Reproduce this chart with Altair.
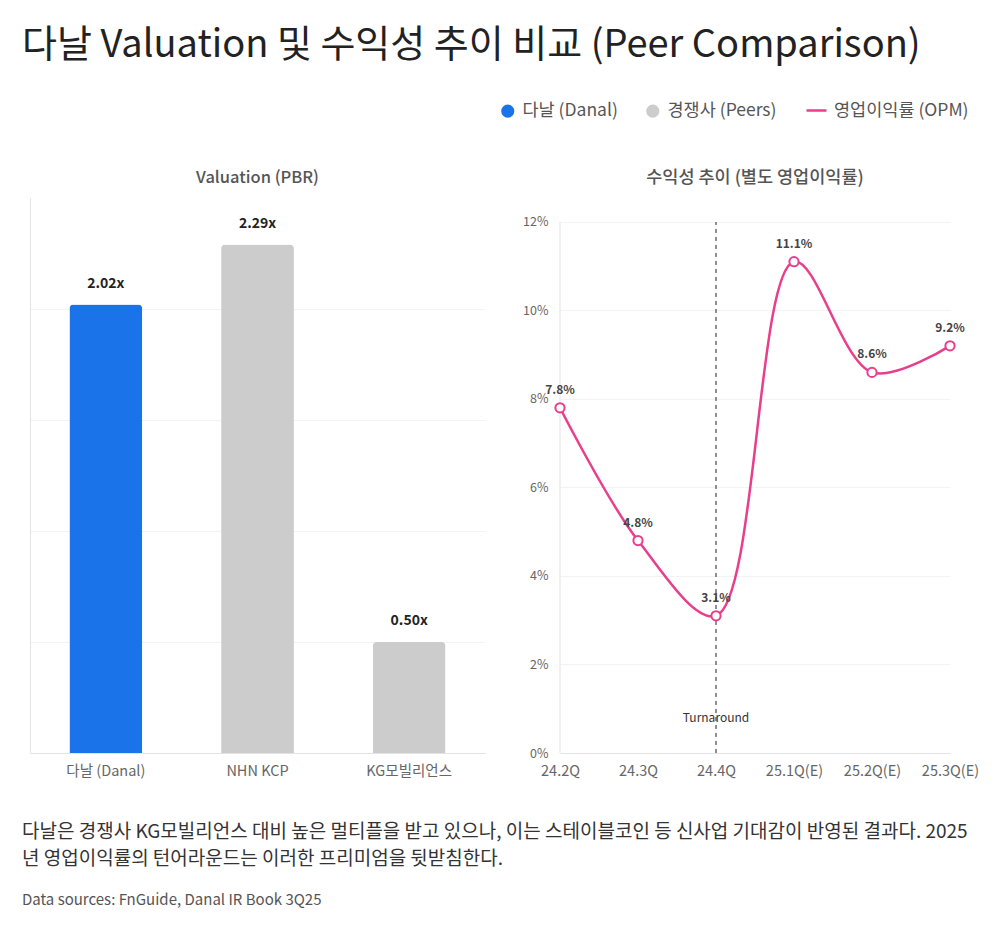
import altair as alt
import pandas as pd

FONT = "Noto Sans CJK KR"

# ---- data ----
companies = ["다날 (Danal)", "NHN KCP", "KG모빌리언스"]
pbr = [2.02, 2.29, 0.50]
pbr_labels = ["2.02x", "2.29x", "0.50x"]
groups = ["다날 (Danal)", "경쟁사 (Peers)", "경쟁사 (Peers)"]
group_domain = ["다날 (Danal)", "경쟁사 (Peers)"]
group_colors = ["#1a73e8", "#cccccc"]

quarters = ["24.2Q", "24.3Q", "24.4Q", "25.1Q(E)", "25.2Q(E)", "25.3Q(E)"]
opm = [7.8, 4.8, 3.1, 11.1, 8.6, 9.2]
opm_labels = ["7.8%", "4.8%", "3.1%", "11.1%", "8.6%", "9.2%"]
series_name = "영업이익률 (OPM)"
pink = "#e83e8c"

opm_ticks = [0, 2, 4, 6, 8, 10, 12]
opm_axis_start = [quarters[0]]
opm_axis_lo = [0]
opm_axis_hi = [12]

turn_quarter = ["24.4Q"]
turn_text = ["Turnaround"]
turn_label_y = [0.8]

title_text = "다날 Valuation 및 수익성 추이 비교 (Peer Comparison)"
footer_lines = [
    "다날은 경쟁사 KG모빌리언스 대비 높은 멀티플을 받고 있으나, 이는 스테이블코인 등 신사업 기대감이 반영된 결과다. 2025",
    "년 영업이익률의 턴어라운드는 이러한 프리미엄을 뒷받침한다.",
]
source_text = "Data sources: FnGuide, Danal IR Book 3Q25"

PANEL_H = 555
Y_R_MAX = 12.54  # right-panel scale top so that 12% sits below the shared panel top

# ---- left panel: PBR bars ----
bar_df = pd.DataFrame({"company": companies, "pbr": pbr, "label": pbr_labels, "group": groups})
x_l = alt.X(
    "company:N", sort=companies, title=None,
    scale=alt.Scale(paddingInner=0.52, paddingOuter=0.26),
    axis=alt.Axis(labelAngle=0, labelColor="#666", labelFontSize=14.5, labelPadding=11,
                  ticks=False, domainColor="#e3e3e3", grid=False),
)
y_l = alt.Y(
    "pbr:Q", title=None, scale=alt.Scale(domain=[0, 2.5], nice=False),
    axis=alt.Axis(labels=False, ticks=False, domainColor="#e3e3e3", gridColor="#f3f3f3",
                  values=[0.5, 1.0, 1.5, 2.0]),
)
bars = alt.Chart(bar_df).mark_bar(cornerRadiusTopLeft=4, cornerRadiusTopRight=4).encode(
    x=x_l, y=y_l,
    color=alt.Color(
        "group:N",
        scale=alt.Scale(domain=group_domain, range=group_colors),
        legend=alt.Legend(
            title=None, orient="none", direction="horizontal", legendX=469, legendY=-96,
            symbolType="circle", symbolSize=170, labelFontSize=17.5, labelColor="#555",
            labelOffset=6, columnPadding=26, labelFont=FONT,
        ),
    ),
)
bar_text = alt.Chart(bar_df).mark_text(dy=-21, fontSize=14, fontWeight="bold", color="#222").encode(
    x=x_l, y=y_l, text="label:N"
)
left = alt.layer(bars, bar_text).properties(
    width=455, height=PANEL_H,
    title=alt.TitleParams("Valuation (PBR)", fontSize=16.5, fontWeight=500, color="#555", offset=12),
)

# ---- right panel: OPM line ----
line_df = pd.DataFrame({"quarter": quarters, "opm": opm, "label": opm_labels,
                        "series": [series_name] * len(quarters)})
x_r = alt.X(
    "quarter:N", title=None,
    scale=alt.Scale(type="point", domain=quarters, padding=0),
    axis=alt.Axis(labelAngle=0, ticks=False, domainColor="#e3e3e3", grid=False,
                  labelColor="#666", labelFontSize=14.5, labelPadding=11),
)
y_scale_r = alt.Scale(domain=[0, Y_R_MAX], nice=False)
y_r = alt.Y(
    "opm:Q", title=None, scale=y_scale_r,
    axis=alt.Axis(values=opm_ticks, labelExpr="datum.value + '%'", ticks=False, domain=False,
                  gridColor="#f3f3f3", labelColor="#666", labelFontSize=12.5, labelPadding=12),
)
axis_df = pd.DataFrame({"quarter": opm_axis_start, "lo": opm_axis_lo, "hi": opm_axis_hi})
axis_line = alt.Chart(axis_df).mark_rule(color="#e3e3e3", strokeWidth=1).encode(
    x=x_r, y=alt.Y("lo:Q", scale=y_scale_r), y2="hi:Q"
)
line = alt.Chart(line_df).mark_line(interpolate="catmull-rom", strokeWidth=2.5).encode(
    x=x_r, y=y_r,
    stroke=alt.Stroke(
        "series:N",
        scale=alt.Scale(domain=[series_name], range=[pink]),
        legend=alt.Legend(
            title=None, orient="none", direction="horizontal", legendX=775, legendY=-99,
            symbolType="stroke", symbolSize=400, symbolStrokeWidth=2.5, labelFontSize=17.5,
            labelColor="#555", labelOffset=6, labelFont=FONT,
        ),
    ),
)
pts = alt.Chart(line_df).mark_point(
    shape="circle", filled=True, fill="white", stroke=pink, strokeWidth=2, size=85, opacity=1
).encode(x=x_r, y=y_r)
pt_text = alt.Chart(line_df).mark_text(dy=-18, fontSize=12, fontWeight="bold", color="#444").encode(
    x=x_r, y=y_r, text="label:N"
)
turn_df = pd.DataFrame({"quarter": turn_quarter, "text": turn_text, "ty": turn_label_y,
                        "lo": opm_axis_lo, "hi": opm_axis_hi})
rule = alt.Chart(turn_df).mark_rule(strokeDash=[4, 4], color="#555", strokeWidth=1.3).encode(
    x=x_r, y=alt.Y("lo:Q", scale=y_scale_r), y2="hi:Q"
)
rule_text = alt.Chart(turn_df).mark_text(fontSize=12, color="#333").encode(
    x=x_r, y=alt.Y("ty:Q", scale=y_scale_r), text="text:N"
)
right = alt.layer(axis_line, rule, line, pts, pt_text, rule_text).properties(
    width=390, height=PANEL_H,
    title=alt.TitleParams("수익성 추이 (별도 영업이익률)", fontSize=17.5, fontWeight=500, color="#555", offset=12),
)

panels = alt.hconcat(left, right, spacing=37).resolve_scale(color="shared", stroke="shared")

# ---- footer ----
footer = alt.Chart(pd.DataFrame({"v": [0]})).mark_point(opacity=0).encode(
    x=alt.X("v:Q", axis=None), y=alt.Y("v:Q", axis=None)
).properties(
    width=940, height=1,
    title=alt.TitleParams(
        footer_lines, subtitle=source_text, anchor="start", dx=-8, fontSize=19, fontWeight="normal",
        color="#333", lineHeight=27, subtitleFontSize=15, subtitleColor="#555", subtitlePadding=24,
        offset=0,
    ),
)

chart = alt.vconcat(panels, footer, spacing=44).properties(
    title=alt.TitleParams(title_text, anchor="start", dx=0, fontSize=38, fontWeight="normal",
                          color="#222", offset=34),
    padding={"left": 22, "top": 27, "right": 10, "bottom": 10},
).configure(font=FONT).configure_view(stroke=None).configure_title(font=FONT, subtitleFont=FONT)

chart.save("out.html", embed_options={"renderer": "svg", "actions": False})
